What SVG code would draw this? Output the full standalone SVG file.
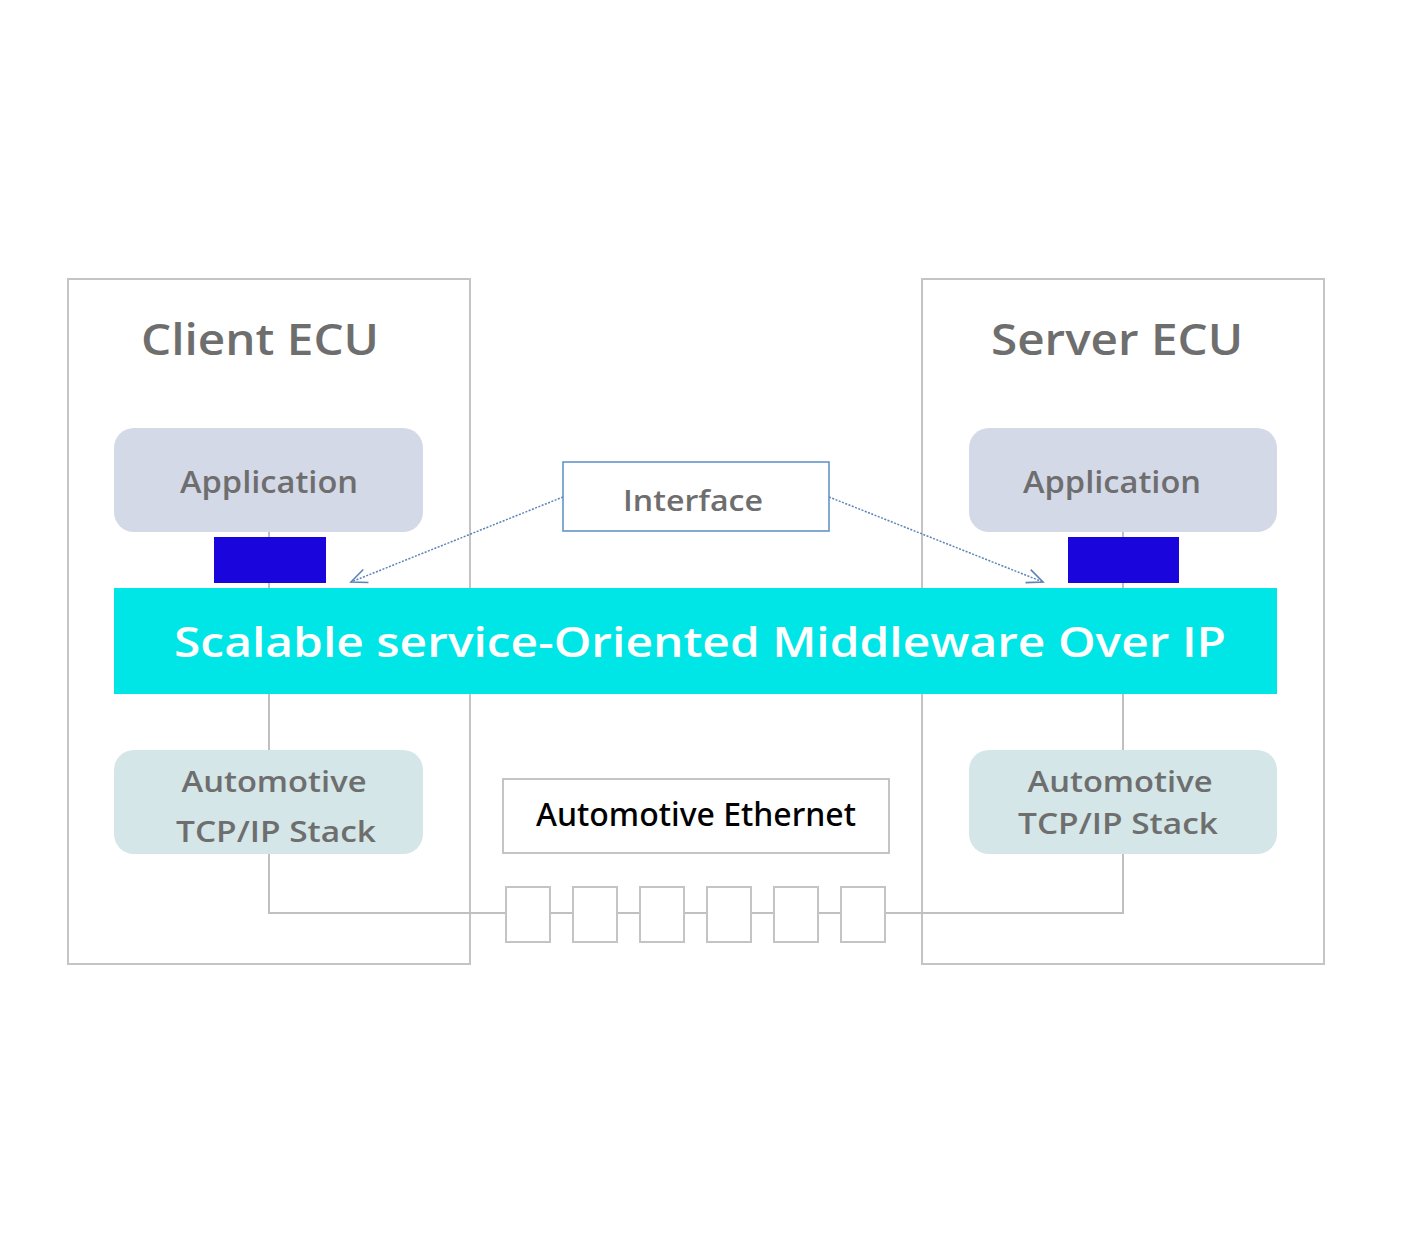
<svg xmlns="http://www.w3.org/2000/svg" width="1415" height="1253" viewBox="0 0 1415 1253">
<defs>
<style>
.frame{fill:#fff;stroke:#c4c4c4;stroke-width:2}
.app{fill:#d4d9e8}
.tcp{fill:#d4e6e8}
.port{fill:#1a05dc}
.wire{fill:none;stroke:#c0c0c0;stroke-width:2}
.sq{fill:#fff;stroke:#c4c4c4;stroke-width:2}
.dot{fill:none;stroke:#5b84b8;stroke-width:1.5;stroke-dasharray:2 1.5}
.t{font-family:"Open Sans","Liberation Sans",sans-serif;font-weight:600;fill:#6e6e6e;text-anchor:middle}
</style>
<marker id="arr" viewBox="0 0 20 20" refX="18" refY="10" markerWidth="20" markerHeight="20" markerUnits="userSpaceOnUse" orient="auto">
<path d="M2,3 L18,10 L2,17" fill="none" stroke="#5b84b8" stroke-width="1.6"/>
</marker>
</defs>
<rect width="1415" height="1253" fill="#fff"/>
<g id="client-ecu">
<rect class="frame" x="68" y="279" width="402" height="685"/>
<text class="t" x="260" y="355" font-size="44" textLength="238" lengthAdjust="spacingAndGlyphs">Client ECU</text>
</g>
<g id="server-ecu">
<rect class="frame" x="922" y="279" width="402" height="685"/>
<text class="t" x="1117" y="355" font-size="44" textLength="252" lengthAdjust="spacingAndGlyphs">Server ECU</text>
</g>
<g id="connectors">
<path class="wire" d="M269,532 V913 H1123 V532"/>
<path class="dot" d="M563,497 L351,582" marker-end="url(#arr)"/>
<path class="dot" d="M829,497 L1043,582" marker-end="url(#arr)"/>
</g>
<g id="client-app">
<rect class="app" x="114" y="428" width="309" height="104" rx="20"/>
<text class="t" x="269" y="493" font-size="30" textLength="178" lengthAdjust="spacingAndGlyphs">Application</text>
</g>
<g id="server-app">
<rect class="app" x="969" y="428" width="308" height="104" rx="20"/>
<text class="t" x="1112" y="493" font-size="30" textLength="178" lengthAdjust="spacingAndGlyphs">Application</text>
</g>
<g id="client-port"><rect class="port" x="214" y="537" width="112" height="46"/></g>
<g id="server-port"><rect class="port" x="1068" y="537" width="111" height="46"/></g>
<g id="someip">
<rect x="114" y="588" width="1163" height="106" fill="#00e5e5"/>
<text class="t" x="700" y="657" font-size="42" style="fill:#fff" textLength="1052" lengthAdjust="spacingAndGlyphs">Scalable service-Oriented Middleware Over IP</text>
</g>
<g id="interface">
<rect x="563" y="462" width="266" height="69" fill="#fff" stroke="#5b8ec4" stroke-width="1.5"/>
<text class="t" x="693" y="511" font-size="28" textLength="140" lengthAdjust="spacingAndGlyphs">Interface</text>
</g>
<g id="client-tcp">
<rect class="tcp" x="114" y="750" width="309" height="104" rx="20"/>
<text class="t" x="274" y="792" font-size="29" textLength="185" lengthAdjust="spacingAndGlyphs">Automotive</text>
<text class="t" x="276" y="842" font-size="29" textLength="200" lengthAdjust="spacingAndGlyphs">TCP/IP Stack</text>
</g>
<g id="server-tcp">
<rect class="tcp" x="969" y="750" width="308" height="104" rx="20"/>
<text class="t" x="1120" y="792" font-size="29" textLength="185" lengthAdjust="spacingAndGlyphs">Automotive</text>
<text class="t" x="1118" y="834" font-size="29" textLength="200" lengthAdjust="spacingAndGlyphs">TCP/IP Stack</text>
</g>
<g id="ethernet">
<rect x="503" y="779" width="386" height="74" fill="#fff" stroke="#c4c4c4" stroke-width="2"/>
<text x="696" y="826" font-family="'Noto Sans','Open Sans','Liberation Sans',sans-serif" font-size="32" font-weight="500" fill="#000" text-anchor="middle" textLength="320" lengthAdjust="spacingAndGlyphs">Automotive Ethernet</text>
</g>
<g id="frames-chain">
<rect class="sq" x="506" y="887" width="44" height="55"/>
<rect class="sq" x="573" y="887" width="44" height="55"/>
<rect class="sq" x="640" y="887" width="44" height="55"/>
<rect class="sq" x="707" y="887" width="44" height="55"/>
<rect class="sq" x="774" y="887" width="44" height="55"/>
<rect class="sq" x="841" y="887" width="44" height="55"/>
</g>
</svg>
